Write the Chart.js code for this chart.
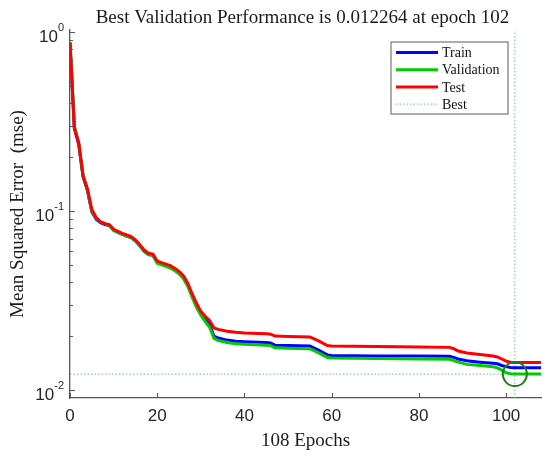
<!DOCTYPE html>
<html>
<head>
<meta charset="utf-8">
<script src="https://cdn.jsdelivr.net/npm/chart.js@4.4.1/dist/chart.umd.min.js"></script>
<style>
  html, body { margin: 0; padding: 0; background: #fff; }
</style>
</head>
<body>
<canvas id="perf" width="550" height="457"></canvas>
<script>
// values
const epochs = [0, 1, 2, 3, 4, 5, 6, 7, 8, 9, 10, 11, 12, 13, 14, 15, 16, 17, 18, 19,
  20, 21, 22, 23, 24, 25, 26, 27, 28, 29, 30, 31, 32, 33, 34, 36, 38, 40, 45, 46,
  47, 50, 55, 57, 59, 60, 70, 80, 87, 88, 89, 91, 94, 97, 98, 99, 100, 101, 102, 105, 108];

const trainMse = [0.87, 0.29, 0.235, 0.155, 0.130, 0.099, 0.090, 0.086, 0.084, 0.083,
  0.078, 0.076, 0.074, 0.0725, 0.071, 0.068, 0.064, 0.0595, 0.057, 0.0565,
  0.0515, 0.0505, 0.0495, 0.0485, 0.0468, 0.045, 0.0425, 0.0385, 0.0335, 0.0298,
  0.0268, 0.0248, 0.0232, 0.0200, 0.0195, 0.0190, 0.0187, 0.0186, 0.0184, 0.0183,
  0.0178, 0.0177, 0.0176, 0.0167, 0.0157, 0.0156, 0.0155, 0.01548, 0.01545, 0.0152,
  0.0149, 0.01455, 0.0143, 0.0141, 0.0140, 0.0137, 0.0135, 0.01335, 0.01333, 0.01332, 0.01331];

const validationMse = [0.88, 0.30, 0.24, 0.158, 0.132, 0.100, 0.091, 0.087, 0.085, 0.083,
  0.078, 0.076, 0.074, 0.0725, 0.071, 0.068, 0.064, 0.0595, 0.057, 0.0565,
  0.051, 0.050, 0.049, 0.048, 0.0465, 0.0445, 0.042, 0.038, 0.033, 0.029,
  0.0262, 0.0242, 0.0224, 0.0194, 0.0189, 0.0184, 0.0181, 0.0180, 0.0178, 0.0177,
  0.0172, 0.0171, 0.0170, 0.0161, 0.0152, 0.0151, 0.0150, 0.0149, 0.01485, 0.0146,
  0.0143, 0.0139, 0.0137, 0.01348, 0.0133, 0.0129, 0.0125, 0.01232, 0.012264, 0.01228, 0.01229];

const testMse = [0.87, 0.29, 0.24, 0.157, 0.133, 0.102, 0.092, 0.087, 0.085, 0.084,
  0.079, 0.077, 0.075, 0.0735, 0.072, 0.069, 0.065, 0.0605, 0.058, 0.0575,
  0.0525, 0.0515, 0.0505, 0.0495, 0.0478, 0.046, 0.0435, 0.0395, 0.0345, 0.0305,
  0.0275, 0.0258, 0.0245, 0.0222, 0.0218, 0.0213, 0.0210, 0.0208, 0.0206, 0.0205,
  0.0200, 0.0199, 0.0198, 0.0188, 0.0177, 0.0176, 0.0175, 0.0174, 0.0173, 0.0170,
  0.0165, 0.0161, 0.0158, 0.0155, 0.0153, 0.0149, 0.0145, 0.01428, 0.01426, 0.01426, 0.01425];

const bestEpoch = 102;
const bestValue = 0.012264;
const maxEpoch = 108;

const xTicks = [0, 20, 40, 60, 80, 100];
const yTicks = [0.01, 0.1, 1];
const yExponents = ['-2', '-1', '0'];
const yMin = 0.00902, yMax = 1.026;

const titleText = 'Best Validation Performance is 0.012264 at epoch 102';
const xTitle = '108 Epochs';
const yTitle = 'Mean Squared Error  (mse)';
const legendLabels = ['Train', 'Validation', 'Test', 'Best'];

const BLUE = '#0000ff', GREEN = '#00cc00', RED = '#ff0000';
const BEST = '#66c28a', CIRCLE = '#1e7d1e';
const AXIS = '#555555', TEXT = '#262626';
const SERIF = '"Liberation Serif", "Times New Roman", serif';
const SANS = '"Liberation Sans", Arial, sans-serif';

function pts(vals) {
  return epochs.map((e, i) => ({ x: e, y: vals[i] }));
}

function line(ctx, x1, y1, x2, y2) {
  ctx.beginPath();
  ctx.moveTo(x1, y1);
  ctx.lineTo(x2, y2);
  ctx.stroke();
}

// inward ticks, drawn under the curves like matlab does
const axisTicks = {
  id: 'axisTicks',
  beforeDatasetsDraw(chart) {
    const { ctx, chartArea: a, scales: { x, y } } = chart;
    ctx.save();
    ctx.strokeStyle = AXIS;
    ctx.lineWidth = 1;
    xTicks.forEach(v => {
      const px = Math.round(x.getPixelForValue(v)) + 0.5;
      line(ctx, px, a.bottom, px, a.bottom - 5);
    });
    for (let e = -3; e <= 0; e++) {
      for (let k = 1; k <= 9; k++) {
        const v = k * Math.pow(10, e);
        if (v < yMin || v > yMax) continue;
        const py = Math.round(y.getPixelForValue(v)) + 0.5;
        line(ctx, a.left, py, a.left + (k === 1 ? 5 : 3), py);
      }
    }
    ctx.restore();
  },
  afterDraw(chart) {
    const { ctx, chartArea: a, scales: { x, y } } = chart;
    ctx.save();
    ctx.fillStyle = TEXT;

    // x tick labels
    ctx.font = '17px ' + SANS;
    ctx.textAlign = 'center';
    ctx.textBaseline = 'middle';
    xTicks.forEach(v => ctx.fillText(String(v), x.getPixelForValue(v), 416));

    // y tick labels as 10 with a raised exponent
    yTicks.forEach((v, i) => {
      const py = y.getPixelForValue(v);
      ctx.font = '11px ' + SANS;
      const ew = ctx.measureText(yExponents[i]).width;
      const right = 64;
      ctx.textAlign = 'left';
      ctx.textBaseline = 'middle';
      ctx.fillText(yExponents[i], right - ew, py - 4);
      ctx.font = '17px ' + SANS;
      ctx.textAlign = 'right';
      ctx.fillText('10', right - ew, py + 5);
    });

    // titles
    ctx.fillStyle = '#1a1a1a';
    ctx.font = '19px ' + SERIF;
    ctx.textAlign = 'center';
    ctx.textBaseline = 'alphabetic';
    ctx.fillText(titleText, (a.left + a.right) / 2 - 3, 23);
    ctx.fillText(xTitle, (a.left + a.right) / 2, 446);
    ctx.save();
    ctx.translate(23, (a.top + a.bottom) / 2);
    ctx.rotate(-Math.PI / 2);
    ctx.fillText(yTitle, 0, 0);
    ctx.restore();

    // legend box
    const bx = 391, by = 42, bw = 117, bh = 72;
    ctx.fillStyle = '#fff';
    ctx.fillRect(bx, by, bw, bh);
    ctx.strokeStyle = '#808080';
    ctx.lineWidth = 1.3;
    ctx.strokeRect(bx, by, bw, bh);
    const colors = [BLUE, GREEN, RED, BEST];
    ctx.font = '14px ' + SERIF;
    ctx.textAlign = 'left';
    ctx.textBaseline = 'middle';
    legendLabels.forEach((lab, i) => {
      const ly = 52.5 + i * 17.2;
      ctx.strokeStyle = colors[i];
      if (i === 3) {
        ctx.lineWidth = 1;
        ctx.setLineDash([1.5, 2]);
      } else {
        ctx.lineWidth = 3;
        ctx.setLineDash([]);
      }
      line(ctx, 396, ly, 438, ly);
      ctx.setLineDash([]);
      ctx.fillStyle = '#111';
      ctx.fillText(lab, 442, ly + 1);
    });
    ctx.restore();
  }
};

new Chart(document.getElementById('perf'), {
  type: 'line',
  data: {
    datasets: [
      { label: 'Best circle', data: [{ x: bestEpoch, y: bestValue }], showLine: false,
        pointRadius: 12, pointHoverRadius: 12, pointBorderColor: CIRCLE,
        pointBackgroundColor: 'rgba(0,0,0,0)', pointBorderWidth: 2, order: 0 },
      { label: 'Test', data: pts(testMse), borderColor: RED, borderWidth: 3,
        pointRadius: 0, tension: 0, order: 1 },
      { label: 'Validation', data: pts(validationMse), borderColor: GREEN, borderWidth: 3,
        pointRadius: 0, tension: 0, order: 2 },
      { label: 'Train', data: pts(trainMse), borderColor: BLUE, borderWidth: 3,
        pointRadius: 0, tension: 0, order: 3 },
      { label: 'Best x', data: [{ x: bestEpoch, y: yMin }, { x: bestEpoch, y: yMax }],
        borderColor: BEST, borderWidth: 1, borderDash: [1.5, 2], pointRadius: 0, order: 4 },
      { label: 'Best y', data: [{ x: 0, y: bestValue }, { x: maxEpoch, y: bestValue }],
        borderColor: BEST, borderWidth: 1, borderDash: [1.5, 2], pointRadius: 0, order: 4 }
    ]
  },
  options: {
    responsive: false,
    animation: false,
    devicePixelRatio: 1,
    layout: { autoPadding: false, padding: { left: 70, right: 9, top: 30, bottom: 59 } },
    plugins: {
      legend: { display: false },
      title: { display: false },
      tooltip: { enabled: false }
    },
    scales: {
      x: {
        type: 'linear', min: 0, max: maxEpoch,
        afterBuildTicks: s => { s.ticks = xTicks.map(v => ({ value: v })); },
        grid: { display: false, drawTicks: false },
        border: { display: true, color: AXIS, width: 1.3 },
        ticks: { display: false }
      },
      y: {
        type: 'logarithmic', min: yMin, max: yMax,
        afterBuildTicks: s => { s.ticks = yTicks.map(v => ({ value: v })); },
        grid: { display: false, drawTicks: false },
        border: { display: true, color: AXIS, width: 1.3 },
        ticks: { display: false }
      }
    }
  },
  plugins: [axisTicks]
});
</script>
</body>
</html>
